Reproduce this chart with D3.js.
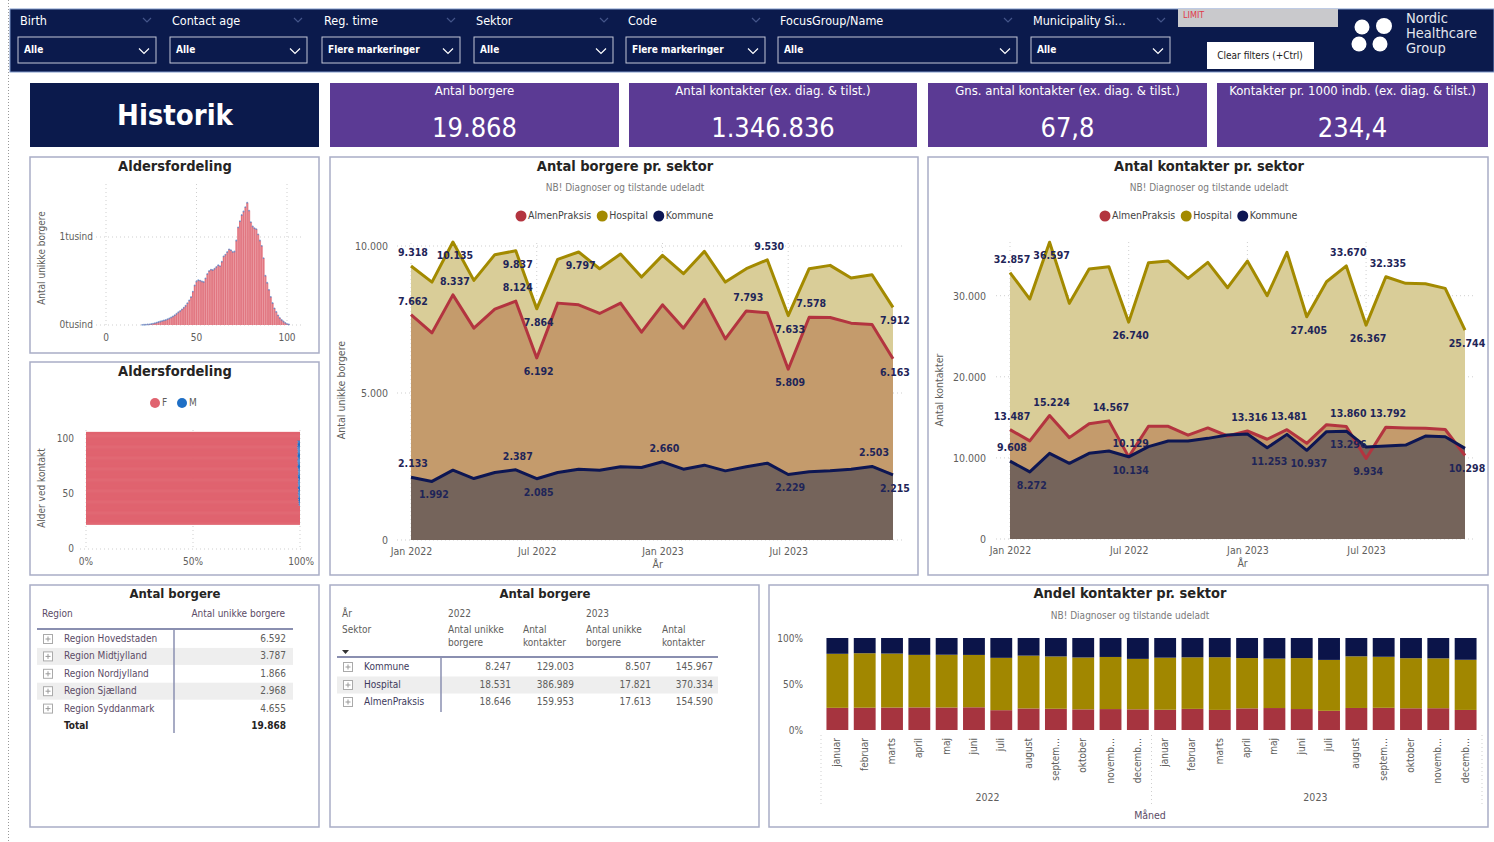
<!DOCTYPE html>
<html>
<head>
<meta charset="utf-8">
<script src="https://cdn.jsdelivr.net/npm/d3@7"></script>
<style>
  body { margin: 0; background: #fff; }
  svg { display: block; font-family: "Liberation Sans Narrow", "DejaVu Sans Condensed", Roboto, sans-serif; }
</style>
</head>
<body>
<svg id="dash" width="1494" height="842"></svg>
<script>
// ---- data ----
const monthKeys = ["2022-01","2022-02","2022-03","2022-04","2022-05","2022-06","2022-07","2022-08","2022-09","2022-10","2022-11","2022-12",
                   "2023-01","2023-02","2023-03","2023-04","2023-05","2023-06","2023-07","2023-08","2023-09","2023-10","2023-11","2023-12"];
const xTickKeys = ["2022-01","2022-07","2023-01","2023-07"];
const xTickNames = ["Jan 2022","Jul 2022","Jan 2023","Jul 2023"];
const monthNames = ["januar","februar","marts","april","maj","juni","juli","august","septem…","oktober","novemb…","decemb…"];
const years = ["2022","2023"];
const sectors = ["AlmenPraksis","Hospital","Kommune"];

const borgereAlmen    = [7662,7045,8337,7205,7850,8124,6192,8057,8000,7705,8057,7068,8000,7205,8182,6841,7793,7727,5809,7578,7568,7375,7330,6163];
const borgereHospital = [9318,8773,10135,8830,9705,9837,7864,9545,9797,9227,9727,8943,9682,9057,9818,8773,9227,9530,7633,9227,9341,8909,9023,7912];
const borgereKommune  = [2133,1992,2375,2091,2295,2387,2085,2295,2409,2375,2489,2466,2660,2409,2545,2352,2489,2614,2229,2318,2352,2409,2503,2215];

const kontakterAlmen    = [13487,12100,15224,12500,14200,14567,10129,13900,13900,12800,13700,12700,13316,12300,13481,11800,14100,13860,9934,13792,13700,13650,13500,10298];
const kontakterHospital = [32857,29589,36597,29055,33288,33575,26740,34068,34274,32137,34110,30986,34274,30000,35342,27405,31726,33670,26367,32335,31520,31479,30904,25744];
const kontakterKommune  = [9608,8272,10562,9329,10562,10849,10134,11384,12082,12082,12410,12822,12950,11253,12900,10937,13233,13296,11342,11465,11589,12698,12616,11178];

// labelled points: [sector, month index, up/down]
const borgereLabels = [["Hospital",0,"up"],["Hospital",2,"down"],["Hospital",5,"down"],["Hospital",6,"down"],["Hospital",8,"down"],
  ["Hospital",17,"up"],["Hospital",18,"down"],["Hospital",23,"down"],
  ["AlmenPraksis",0,"up"],["AlmenPraksis",2,"up"],["AlmenPraksis",5,"up"],["AlmenPraksis",6,"down"],["AlmenPraksis",16,"up"],
  ["AlmenPraksis",18,"down"],["AlmenPraksis",19,"up"],["AlmenPraksis",23,"down"],
  ["Kommune",0,"up"],["Kommune",1,"down"],["Kommune",5,"up"],["Kommune",6,"down"],["Kommune",12,"up"],["Kommune",18,"down"],
  ["Kommune",22,"up"],["Kommune",23,"down"]];
const kontakterLabels = [["Hospital",0,"up"],["Hospital",2,"down"],["Hospital",6,"down"],["Hospital",15,"down"],["Hospital",17,"up"],
  ["Hospital",18,"down"],["Hospital",19,"up"],["Hospital",23,"down"],
  ["AlmenPraksis",0,"up"],["AlmenPraksis",2,"up"],["AlmenPraksis",5,"up"],["AlmenPraksis",6,"up"],["AlmenPraksis",12,"up"],
  ["AlmenPraksis",14,"up"],["AlmenPraksis",17,"up"],["AlmenPraksis",19,"up"],["AlmenPraksis",18,"down"],["AlmenPraksis",23,"down"],
  ["Kommune",0,"up"],["Kommune",1,"down"],["Kommune",6,"down"],["Kommune",13,"down"],["Kommune",15,"down"],["Kommune",17,"down"]];

// age histogram, ages 20..101
const histCounts = [2,3,4,6,8,12,16,22,28,34,40,46,52,58,66,75,86,98,112,128,145,160,178,198,220,248,280,318,380,450,
  495,510,505,495,490,530,580,615,630,625,640,660,680,670,720,780,800,830,860,850,830,835,960,1110,1180,1250,1290,1340,1390,1300,
  1170,1120,1100,1090,1030,960,900,760,560,480,400,320,250,190,150,110,80,58,40,25,12,6];
// male share per age, ages 23..106
const maleShare = [0,0,0,0,0,0,0,0,0,0,0,0,0,0,0,0,0,
  0.006,0.004,0.007,0.005,0.008,0.006,0.009,0.007,0.006,0.008,
  0.010,0.007,0.009,0.008,0.006,0.009,0.011,0.008,0.007,0.009,
  0.010,0.008,0.009,0.007,0.008,0.010,0.009,0.011,0.008,0.009,
  0.007,0.010,0.008,0.009,0.011,0.012,0.010,0.009,0.011,0.010,
  0.012,0.011,0.009,0.010,0.012,0.011,0.010,0.012,0.009,0.011,
  0.010,0.012,0.011,0.013,0.010,0.012,0.011,0.009,0.012,
  0,0,0,0,0,0,0,0];

const filterLabels = ["Birth","Contact age","Reg. time","Sektor","Code","FocusGroup/Name","Municipality Si…"];
const filterValues = ["Alle","Alle","Flere markeringer","Alle","Flere markeringer","Alle","Alle"];

const kpiTitles = ["Antal borgere","Antal kontakter (ex. diag. & tilst.)","Gns. antal kontakter (ex. diag. & tilst.)","Kontakter pr. 1000 indb. (ex. diag. & tilst.)"];
const kpiValues = ["19.868","1.346.836","67,8","234,4"];

const regions = ["Region Hovedstaden","Region Midtjylland","Region Nordjylland","Region Sjælland","Region Syddanmark"];
const regionBorgere = [6592,3787,1866,2968,4655];

const tableSectors = ["Kommune","Hospital","AlmenPraksis"];
const unikke2022 = [8247,18531,18646];
const kontakter2022 = [129003,386989,159953];
const unikke2023 = [8507,17821,17613];
const kontakter2023 = [145967,370334,154590];

// ---- setup ----
const svg = d3.select("#dash");
const loc = d3.formatLocale({decimal: ",", thousands: ".", grouping: [3], currency: ["", " kr."]});
const fmt = loc.format(",d");

const NAVY = "#0b1a4c", PURPLE = "#5b3a94", GREY = "#605e5c", LABEL = "#1f2558";
const LINE = {AlmenPraksis: "#b3343f", Hospital: "#a38a00", Kommune: "#0d1653"};
const FILL = {AlmenPraksis: "#c49b6c", Hospital: "#d9cd98", Kommune: "#75645b"};
const BAR = {AlmenPraksis: "#a6343f", Hospital: "#a18700", Kommune: "#0b1449"};

function txt(g, x, y, s, size, opts = {}) {
  return g.append("text").attr("x", x).attr("y", y).text(s)
    .attr("font-size", size)
    .attr("fill", opts.fill || GREY)
    .attr("font-weight", opts.bold ? "bold" : null)
    .attr("text-anchor", opts.anchor || "start")
    .attr("dominant-baseline", "middle");
}
function panel(x, y, w, h) {
  svg.append("rect").attr("x", x).attr("y", y).attr("width", w).attr("height", h)
    .attr("fill", "#fff").attr("stroke", "#a9adc6").attr("stroke-width", 1.5);
}
function chevron(g, cx, cy, s, col) {
  g.append("path").attr("d", `M${cx - s},${cy - s / 2}L${cx},${cy + s / 2}L${cx + s},${cy - s / 2}`)
    .attr("fill", "none").attr("stroke", col).attr("stroke-width", 1.2);
}

// left dotted edge
svg.append("line").attr("x1", 8.5).attr("x2", 8.5).attr("y1", 0).attr("y2", 842)
  .attr("stroke", "#999").attr("stroke-dasharray", "1,2");

// ---- top filter bar ----
const bar = svg.append("g");
bar.append("rect").attr("x", 10).attr("y", 9).attr("width", 1484).attr("height", 63)
  .attr("fill", NAVY).attr("stroke", "#7f97c9").attr("stroke-width", 1);
const boxX = [18, 170, 322, 474, 626, 778, 1031];
const boxW = [138, 137, 138, 139, 139, 239, 139];
filterLabels.forEach((l, i) => {
  txt(bar, boxX[i] + 2, 21, l, 12.5, {fill: "#fff"});
  chevron(bar, boxX[i] + boxW[i] - 9, 20, 4, "#44558a");
  bar.append("rect").attr("x", boxX[i]).attr("y", 37).attr("width", boxW[i]).attr("height", 26)
    .attr("fill", "none").attr("stroke", "#c3c6d6").attr("stroke-width", 1);
  txt(bar, boxX[i] + 6, 50, filterValues[i], 10, {fill: "#fff", bold: true});
  chevron(bar, boxX[i] + boxW[i] - 12, 51, 5, "#fff");
});
bar.append("rect").attr("x", 1178).attr("y", 9).attr("width", 160).attr("height", 18).attr("fill", "#c9c9cc");
txt(bar, 1183, 15, "LIMIT", 9, {fill: "#e0394a"});
bar.append("rect").attr("x", 1207).attr("y", 42).attr("width", 107).attr("height", 27).attr("fill", "#fff");
txt(bar, 1260, 56, "Clear filters (+Ctrl)", 10, {fill: "#222", anchor: "middle"});
[[1362, 27, 7.5], [1384, 26, 8], [1359, 44, 7.5], [1380, 44, 7.5]].forEach(([cx, cy, r]) =>
  bar.append("circle").attr("cx", cx).attr("cy", cy).attr("r", r).attr("fill", "#fff"));
["Nordic", "Healthcare", "Group"].forEach((s, i) => txt(bar, 1406, 19 + i * 15, s, 14.5, {fill: "#e4e6ee"}));

// ---- KPI row ----
svg.append("rect").attr("x", 30).attr("y", 83).attr("width", 289).attr("height", 64).attr("fill", NAVY);
txt(svg, 175, 117, "Historik", 29, {fill: "#fff", bold: true, anchor: "middle"});
const kpiX = [330, 629, 928, 1217], kpiW = [289, 288, 279, 271];
kpiTitles.forEach((t, i) => {
  svg.append("rect").attr("x", kpiX[i]).attr("y", 83).attr("width", kpiW[i]).attr("height", 64).attr("fill", PURPLE);
  txt(svg, kpiX[i] + kpiW[i] / 2, 91, t, 13, {fill: "#fff", anchor: "middle"});
  txt(svg, kpiX[i] + kpiW[i] / 2, 129, kpiValues[i], 27, {fill: "#fff", anchor: "middle"});
});

// ---- panels ----
panel(30, 157, 289, 196);
panel(30, 362, 289, 213);
panel(330, 157, 588, 418);
panel(928, 157, 560, 418);
panel(30, 585, 289, 242);
panel(330, 585, 429, 242);
panel(769, 585, 719, 242);

// ---- age histogram ----
(function () {
  const g = svg.append("g");
  txt(g, 175, 167, "Aldersfordeling", 14.5, {fill: "#252423", bold: true, anchor: "middle"});
  const x = d3.scaleLinear().domain([0, 100]).range([106, 287]);
  const y = d3.scaleLinear().domain([0, 1000]).range([325, 237]);
  const grid = g.append("g").attr("stroke", "#cfcfcf").attr("stroke-dasharray", "1,3");
  [0, 1000].forEach(v => grid.append("line").attr("x1", 96).attr("x2", 304).attr("y1", y(v)).attr("y2", y(v)));
  [0, 50, 100].forEach(v => grid.append("line").attr("x1", x(v)).attr("x2", x(v)).attr("y1", 184).attr("y2", 325));
  const ages = d3.range(20, 20 + histCounts.length);
  const bw = x(1) - x(0);
  g.selectAll(".hb").data(histCounts).join("rect")
    .attr("x", (d, i) => x(ages[i]) - bw / 2).attr("width", bw + 0.2)
    .attr("y", d => y(d)).attr("height", d => y(0) - y(d)).attr("fill", "#e0717c");
  g.selectAll(".hs").data(histCounts).join("line")
    .attr("x1", (d, i) => x(ages[i]) + bw / 2).attr("x2", (d, i) => x(ages[i]) + bw / 2)
    .attr("y1", d => y(d)).attr("y2", y(0)).attr("stroke", "#f3b8be").attr("stroke-width", 0.4);
  g.selectAll(".hd").data(histCounts).join("circle")
    .attr("cx", (d, i) => x(ages[i])).attr("cy", d => y(d)).attr("r", 0.9).attr("fill", "#4a7fc8").attr("opacity", 0.7);
  txt(g, 93, y(1000), "1tusind", 10, {anchor: "end"});
  txt(g, 93, y(0), "0tusind", 10, {anchor: "end"});
  [0, 50, 100].forEach(v => txt(g, x(v), 338, v, 10, {anchor: "middle"}));
  txt(g, 0, 0, "Antal unikke borgere", 10).attr("transform", "translate(42,258) rotate(-90)").attr("text-anchor", "middle");
})();

// ---- gender share by age ----
(function () {
  const g = svg.append("g");
  txt(g, 175, 372, "Aldersfordeling", 14.5, {fill: "#252423", bold: true, anchor: "middle"});
  g.append("circle").attr("cx", 155).attr("cy", 403).attr("r", 5).attr("fill", "#e0636f");
  txt(g, 162, 403, "F", 10);
  g.append("circle").attr("cx", 182).attr("cy", 403).attr("r", 5).attr("fill", "#1f6fc5");
  txt(g, 189, 403, "M", 10);
  const x = d3.scaleLinear().domain([0, 1]).range([86, 300]);
  const y = d3.scaleLinear().domain([0, 100]).range([549, 439]);
  const grid = g.append("g").attr("stroke", "#cfcfcf").attr("stroke-dasharray", "1,3");
  [0, 0.5, 1].forEach(v => grid.append("line").attr("x1", x(v)).attr("x2", x(v)).attr("y1", 430).attr("y2", 549));
  grid.append("line").attr("x1", 80).attr("x2", 304).attr("y1", y(0)).attr("y2", y(0));
  const ages = d3.range(23, 23 + maleShare.length);
  const h = y(0) - y(1);
  g.selectAll(".fb").data(maleShare).join("rect")
    .attr("x", x(0)).attr("width", d => x(1 - d) - x(0))
    .attr("y", (d, i) => y(ages[i] + 0.5)).attr("height", h + 0.6).attr("fill", "#e0636f");
  g.selectAll(".mb").data(maleShare).join("rect")
    .attr("x", d => x(1 - d)).attr("width", d => x(1) - x(1 - d))
    .attr("y", (d, i) => y(ages[i] + 0.5)).attr("height", h).attr("fill", "#1f6fc5");
  [0, 50, 100].forEach(v => txt(g, 74, y(v), v, 10, {anchor: "end"}));
  ["0%", "50%", "100%"].forEach((s, i) => txt(g, i === 2 ? 314 : x(i / 2), 562, s, 10, {anchor: i === 2 ? "end" : "middle"}));
  txt(g, 0, 0, "Alder ved kontakt", 10).attr("transform", "translate(42,488) rotate(-90)").attr("text-anchor", "middle");
})();

// ---- area charts ----
function areaChart(o) {
  const g = svg.append("g");
  const x = d3.scalePoint().domain(monthKeys).range([o.left, o.right]);
  const y = d3.scaleLinear().domain([0, o.refVal]).range([o.bottom, o.refY]);
  txt(g, o.cx, 167, o.title, 14.5, {fill: "#252423", bold: true, anchor: "middle"});
  txt(g, o.cx, 188, "NB! Diagnoser og tilstande udeladt", 10, {fill: "#7a7a7a", anchor: "middle"});
  let lx = o.legendX;
  sectors.forEach(s => {
    g.append("circle").attr("cx", lx).attr("cy", 216).attr("r", 5.5).attr("fill", LINE[s]);
    const t = txt(g, lx + 7, 216, s, 10.5, {fill: "#444"});
    lx += 7 + t.node().getComputedTextLength() + 11;
  });
  const gh = g.append("g").attr("stroke", "#cfcfcf").attr("stroke-dasharray", "1,3");
  o.yTicks.forEach(v => gh.append("line").attr("x1", o.left - 14).attr("x2", o.right + 10).attr("y1", y(v)).attr("y2", y(v)));
  xTickKeys.forEach(k => gh.append("line").attr("x1", x(k)).attr("x2", x(k)).attr("y1", o.bottom).attr("y2", o.gridTop));

  const area = d3.area().x((d, i) => x(monthKeys[i])).y0(o.bottom).y1(d => y(d));
  const line = d3.line().x((d, i) => x(monthKeys[i])).y(d => y(d));
  ["Hospital", "AlmenPraksis", "Kommune"].forEach(s =>
    g.append("path").attr("d", area(o.data[s])).attr("fill", FILL[s]));
  ["Hospital", "AlmenPraksis", "Kommune"].forEach(s =>
    g.append("path").attr("d", line(o.data[s])).attr("fill", "none").attr("stroke", LINE[s])
      .attr("stroke-width", 3).attr("stroke-linejoin", "round"));

  o.labels.forEach(([s, i, dir]) => {
    const v = o.data[s][i];
    txt(g, x(monthKeys[i]) + 2, y(v) + (dir === "up" ? -13 : 14), fmt(v), 10.5, {fill: LABEL, bold: true, anchor: "middle"});
  });

  const ya = g.append("g").attr("transform", `translate(${o.left},0)`)
    .call(d3.axisLeft(y).tickValues(o.yTicks).tickFormat(fmt).tickSize(0).tickPadding(o.pad));
  ya.select(".domain").remove();
  ya.attr("font-family", null).attr("font-size", null);
  ya.selectAll("text").attr("fill", GREY).attr("font-size", 10.5);
  const xa = g.append("g").attr("transform", `translate(0,${o.bottom})`)
    .call(d3.axisBottom(x).tickValues(xTickKeys).tickFormat((d, i) => xTickNames[i]).tickSize(0).tickPadding(8));
  xa.select(".domain").remove();
  xa.attr("font-family", null).attr("font-size", null);
  xa.selectAll("text").attr("fill", GREY).attr("font-size", 10.5);
  txt(g, x("2023-01") - 10, o.bottom + 25, "År", 10.5);
  txt(g, 0, 0, o.yTitle, 10.5).attr("transform", `translate(${o.yTitleX},390) rotate(-90)`).attr("text-anchor", "middle");
}

areaChart({
  title: "Antal borgere pr. sektor", cx: 625, legendX: 521,
  left: 411, right: 893, bottom: 540, refY: 246, refVal: 10000, gridTop: 240,
  yTicks: [0, 5000, 10000], pad: 23, yTitle: "Antal unikke borgere", yTitleX: 342,
  data: {AlmenPraksis: borgereAlmen, Hospital: borgereHospital, Kommune: borgereKommune},
  labels: borgereLabels
});
areaChart({
  title: "Antal kontakter pr. sektor", cx: 1209, legendX: 1105,
  left: 1010, right: 1465, bottom: 539, refY: 295.7, refVal: 30000, gridTop: 240,
  yTicks: [0, 10000, 20000, 30000], pad: 24, yTitle: "Antal kontakter", yTitleX: 940,
  data: {AlmenPraksis: kontakterAlmen, Hospital: kontakterHospital, Kommune: kontakterKommune},
  labels: kontakterLabels
});

// ---- region table ----
(function () {
  const g = svg.append("g");
  txt(g, 175, 594, "Antal borgere", 13, {fill: "#252423", bold: true, anchor: "middle"});
  txt(g, 42, 614, "Region", 10, {fill: "#5b4b66"});
  txt(g, 285, 614, "Antal unikke borgere", 10, {anchor: "end", fill: "#5b4b66"});
  const rowY = d3.range(regions.length + 1).map(i => 639 + i * 17.4);
  regions.forEach((r, i) => {
    if (i % 2 === 1) g.append("rect").attr("x", 37).attr("y", rowY[i] - 8.5).attr("width", 256).attr("height", 17).attr("fill", "#eeeeee");
    g.append("rect").attr("x", 43.5).attr("y", rowY[i] - 4.5).attr("width", 9).attr("height", 9).attr("fill", "#fff").attr("stroke", "#aaa");
    g.append("path").attr("d", `M45.5,${rowY[i]}h5M48,${rowY[i] - 2.5}v5`).attr("stroke", "#999");
    txt(g, 64, rowY[i], r, 10, {fill: "#5b4b66"});
    txt(g, 286, rowY[i], fmt(regionBorgere[i]), 10, {anchor: "end"});
  });
  txt(g, 64, rowY[5], "Total", 10, {fill: "#252423", bold: true});
  txt(g, 286, rowY[5], fmt(d3.sum(regionBorgere)), 10, {fill: "#252423", bold: true, anchor: "end"});
  g.append("line").attr("x1", 37).attr("x2", 293).attr("y1", 629).attr("y2", 629).attr("stroke", "#8a8fb0").attr("stroke-width", 2);
  g.append("line").attr("x1", 174).attr("x2", 174).attr("y1", 629).attr("y2", 733).attr("stroke", "#8a8fb0").attr("stroke-width", 1.5);
})();

// ---- sector table ----
(function () {
  const g = svg.append("g");
  txt(g, 545, 594, "Antal borgere", 13, {fill: "#252423", bold: true, anchor: "middle"});
  txt(g, 342, 614, "År", 10);
  txt(g, 342, 630, "Sektor", 10);
  txt(g, 448, 614, years[0], 10);
  txt(g, 586, 614, years[1], 10);
  [[448, "Antal unikke", "borgere"], [523, "Antal", "kontakter"], [586, "Antal unikke", "borgere"], [662, "Antal", "kontakter"]]
    .forEach(([cx, a, b]) => { txt(g, cx, 630, a, 10); txt(g, cx, 643, b, 10); });
  g.append("path").attr("d", "M342,650h7l-3.5,4z").attr("fill", "#333");
  const rowY = [667, 685, 702];
  const cols = [unikke2022, kontakter2022, unikke2023, kontakter2023];
  const colX = [511, 574, 651, 713];
  tableSectors.forEach((s, i) => {
    if (i === 1) g.append("rect").attr("x", 337).attr("y", rowY[i] - 8.5).attr("width", 381).attr("height", 17).attr("fill", "#eeeeee");
    g.append("rect").attr("x", 343.5).attr("y", rowY[i] - 4.5).attr("width", 9).attr("height", 9).attr("fill", "#fff").attr("stroke", "#aaa");
    g.append("path").attr("d", `M345.5,${rowY[i]}h5M348,${rowY[i] - 2.5}v5`).attr("stroke", "#999");
    txt(g, 364, rowY[i], s, 10, {fill: "#3d3a5c"});
    cols.forEach((c, j) => txt(g, colX[j], rowY[i], fmt(c[i]), 10, {anchor: "end"}));
  });
  g.append("line").attr("x1", 337).attr("x2", 718).attr("y1", 657).attr("y2", 657).attr("stroke", "#8a8fb0").attr("stroke-width", 2);
  g.append("line").attr("x1", 441).attr("x2", 441).attr("y1", 657).attr("y2", 712).attr("stroke", "#8a8fb0").attr("stroke-width", 1.5);
})();

// ---- 100% stacked bars ----
(function () {
  const g = svg.append("g");
  txt(g, 1130, 594, "Andel kontakter pr. sektor", 14.5, {fill: "#252423", bold: true, anchor: "middle"});
  txt(g, 1130, 616, "NB! Diagnoser og tilstande udeladt", 10, {fill: "#7a7a7a", anchor: "middle"});
  const rows = monthKeys.map((k, i) => ({key: k, AlmenPraksis: kontakterAlmen[i], Hospital: kontakterHospital[i], Kommune: kontakterKommune[i]}));
  const stack = d3.stack().keys(sectors).offset(d3.stackOffsetExpand)(rows);
  const x = d3.scaleBand().domain(monthKeys).range([821, 1482]).padding(0.2);
  const y = d3.scaleLinear().domain([0, 1]).range([730, 638]);
  const grid = g.append("g").attr("stroke", "#cfcfcf").attr("stroke-dasharray", "1,3");
  [821, 1151.5, 1482].forEach(v => grid.append("line").attr("x1", v).attr("x2", v).attr("y1", 735).attr("y2", 806));
  stack.forEach(layer => {
    g.append("g").attr("fill", BAR[layer.key]).selectAll("rect").data(layer).join("rect")
      .attr("x", d => x(d.data.key)).attr("width", x.bandwidth())
      .attr("y", d => y(d[1])).attr("height", d => y(d[0]) - y(d[1]));
  });
  const ya = g.append("g").attr("transform", "translate(821,0)")
    .call(d3.axisLeft(y).tickValues([0, 0.5, 1]).tickFormat(d3.format(".0%")).tickSize(0).tickPadding(18));
  ya.select(".domain").remove();
  ya.attr("font-family", null).attr("font-size", null);
  ya.selectAll("text").attr("fill", GREY).attr("font-size", 10);
  monthKeys.forEach((k, i) => {
    g.append("text").text(monthNames[i % 12]).attr("font-size", 10).attr("fill", GREY)
      .attr("text-anchor", "end").attr("dominant-baseline", "middle")
      .attr("transform", `translate(${x(k) + x.bandwidth() / 2},738) rotate(-90)`);
  });
  years.forEach((yr, j) => {
    const a = x(monthKeys[j * 12]), b = x(monthKeys[j * 12 + 11]) + x.bandwidth();
    txt(g, (a + b) / 2, 798, yr, 10.5, {anchor: "middle"});
  });
  txt(g, 1150, 816, "Måned", 10.5, {anchor: "middle", fill: "#5b4b66"});
})();
</script>
</body>
</html>
